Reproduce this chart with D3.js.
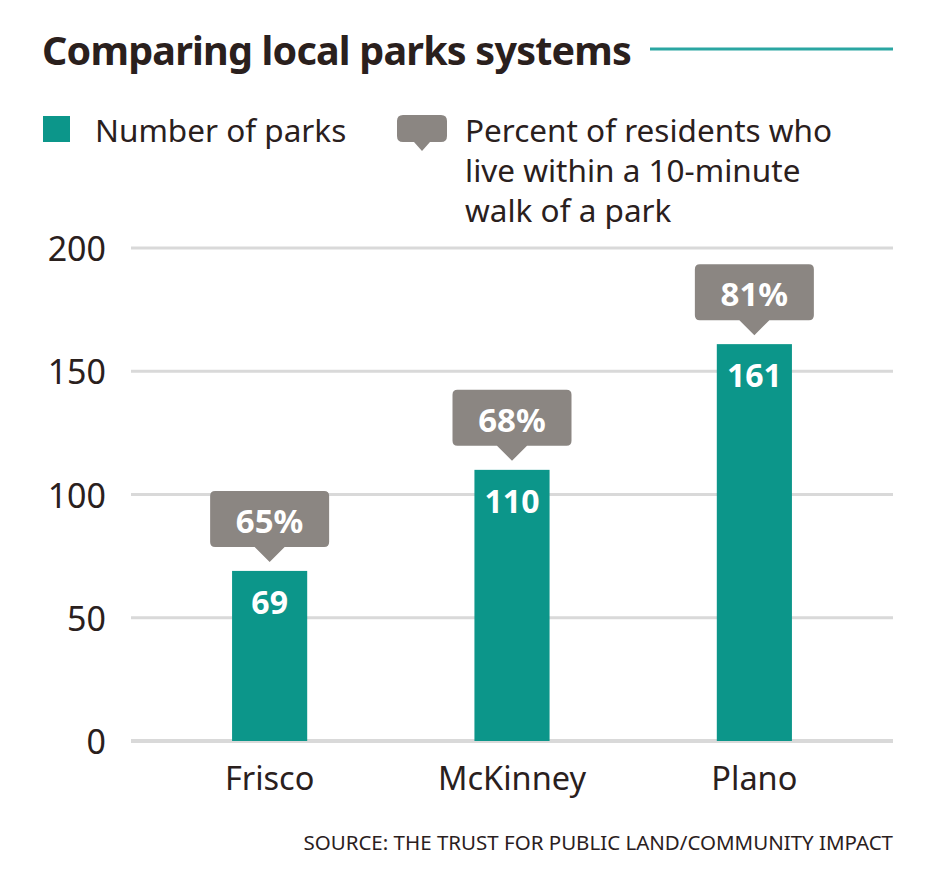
<!DOCTYPE html>
<html>
<head>
<meta charset="utf-8">
<script src="https://cdn.jsdelivr.net/npm/d3@7/dist/d3.min.js"></script>
<style>
body { margin: 0; background: #fff; }
text { font-family: "Noto Sans", sans-serif; }
</style>
</head>
<body>
<svg id="chart" width="929" height="893"></svg>
<script>
// data
var cities = ["Frisco", "McKinney", "Plano"];
var parks = [69, 110, 161];
var walkPct = [65, 68, 81];
var yTicks = [0, 50, 100, 150, 200];
var legLines = ["Percent of residents who", "live within a 10-minute", "walk of a park"];

var TEAL = "#0c968a", GRAY = "#8b8682", INK = "#2a201d", GRID = "#d9d9d9";

var svg = d3.select("#chart");

var x = d3.scaleBand().domain(cities).range([131, 893])
	.paddingInner(0.69).paddingOuter(0.417);
var y = d3.scaleLinear().domain([0, 200]).range([741, 248]);

// rounded box with a pointer underneath
var bubble = function(g, cx, top, w, h, tip, tw, rr){
	var l = cx - w/2, r = cx + w/2, b = top + h;
	var p = d3.path();
	p.moveTo(l + rr, top);
	p.lineTo(r - rr, top); p.quadraticCurveTo(r, top, r, top + rr);
	p.lineTo(r, b - rr); p.quadraticCurveTo(r, b, r - rr, b);
	p.lineTo(cx + tw, b); p.lineTo(cx, b + tip); p.lineTo(cx - tw, b);
	p.lineTo(l + rr, b); p.quadraticCurveTo(l, b, l, b - rr);
	p.lineTo(l, top + rr); p.quadraticCurveTo(l, top, l + rr, top);
	p.closePath();
	return g.append("path").attr("d", p.toString()).style("fill", GRAY);
};

// title
svg.append("text").attr("x", 42).attr("y", 65)
	.style("font-size", "39.5px").style("font-weight", "700")
	.style("fill", INK).style("letter-spacing", "-0.8px")
	.text("Comparing local parks systems");
svg.append("line").attr("x1", 650).attr("x2", 893).attr("y1", 49).attr("y2", 49)
	.style("stroke", "#2aa6a2").style("stroke-width", 3);

// legend
svg.append("rect").attr("x", 43).attr("y", 116).attr("width", 27).attr("height", 26).style("fill", TEAL);
svg.append("text").attr("x", 95).attr("y", 142)
	.style("font-size", "31.5px").style("fill", INK).text("Number of parks");
bubble(svg, 422, 115, 50, 27, 9, 8, 6);
svg.append("text").attr("x", 465).attr("y", 142)
	.style("font-size", "31.5px").style("fill", INK)
	.selectAll("tspan").data(legLines).join("tspan")
	.attr("x", 465).attr("dy", function(d, i){ return i ? 40 : 0; })
	.text(function(d){ return d; });

// grid + y labels
svg.append("g").selectAll("line").data(yTicks).join("line")
	.attr("x1", 131).attr("x2", 893)
	.attr("y1", function(d){ return y(d); }).attr("y2", function(d){ return y(d); })
	.style("stroke", GRID).style("stroke-width", function(d){ return d === 0 ? 4 : 3; });
svg.append("g").selectAll("text").data(yTicks).join("text")
	.attr("x", 106).attr("y", function(d){ return y(d) + 13; })
	.attr("text-anchor", "end")
	.style("font-size", "34px").style("fill", INK)
	.text(function(d){ return d; });

// bars
var rows = cities.map(function(c, i){ return {city: c, n: parks[i], pct: walkPct[i]}; });
var bars = svg.append("g").selectAll("g").data(rows).join("g");
bars.append("rect")
	.attr("x", function(d){ return x(d.city); })
	.attr("y", function(d){ return y(d.n); })
	.attr("width", x.bandwidth())
	.attr("height", function(d){ return y(0) - y(d.n); })
	.style("fill", TEAL);
bars.append("text")
	.attr("x", function(d){ return x(d.city) + x.bandwidth()/2; })
	.attr("y", function(d){ return y(d.n) + 43; })
	.attr("text-anchor", "middle")
	.style("font-size", "32px").style("font-weight", "700").style("fill", "#fff")
	.text(function(d){ return d.n; });

bars.each(function(d){
	var cx = x(d.city) + x.bandwidth()/2;
	var top = y(d.n) - 80;
	bubble(d3.select(this), cx, top, 119, 56, 15, 15, 5);
	d3.select(this).append("text").attr("x", cx).attr("y", top + 42)
		.attr("text-anchor", "middle")
		.style("font-size", "33px").style("font-weight", "700").style("fill", "#fff")
		.text(d.pct + "%");
});

// category labels
svg.append("g").selectAll("text").data(cities).join("text")
	.attr("x", function(d){ return x(d) + x.bandwidth()/2; })
	.attr("y", 790)
	.attr("text-anchor", "middle")
	.style("font-size", "32.5px").style("fill", INK)
	.text(function(d){ return d; });

// source
svg.append("text").attr("x", 893).attr("y", 850).attr("text-anchor", "end")
	.style("font-size", "20.5px").style("fill", INK)
	.text("SOURCE: THE TRUST FOR PUBLIC LAND/COMMUNITY IMPACT");
</script>
</body>
</html>
